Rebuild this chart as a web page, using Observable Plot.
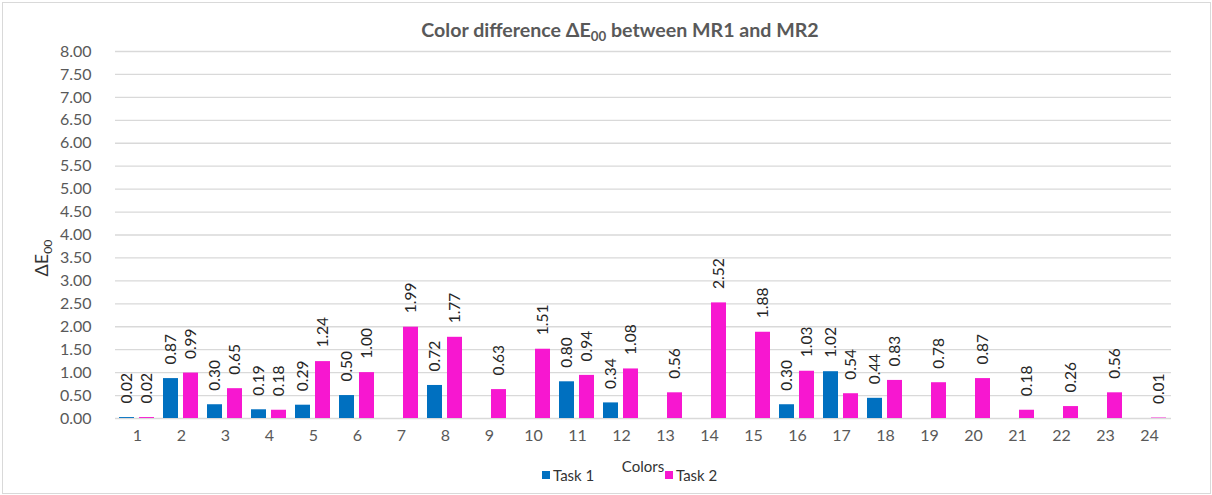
<!DOCTYPE html>
<html><head><meta charset="utf-8">
<script src="https://cdn.jsdelivr.net/npm/d3@7"></script>
<script src="https://cdn.jsdelivr.net/npm/@observablehq/plot@0.6"></script>
<style>
body{margin:0;background:#fff;font-family:Lato,"Open Sans",sans-serif}
#wrap{position:relative;width:1212px;height:495px;overflow:hidden}
#frame{position:absolute;left:2px;top:2px;width:1209px;height:492px;border:1px solid #d9d9d9;box-sizing:border-box;pointer-events:none}
#chart{position:absolute;left:0;top:0}
#title{position:absolute;left:620px;top:18px;transform:translateX(-50%);font-weight:bold;font-size:19.6px;color:#595959;white-space:nowrap}
#title sub,#ytitle sub{font-size:0.68em;vertical-align:-0.3em;line-height:0}
#ytitle{position:absolute;left:41px;top:258px;transform:translate(-50%,-50%) rotate(-90deg);font-size:18px;color:#333;white-space:nowrap}
#xtitle{position:absolute;left:643px;top:457px;transform:translateX(-50%);font-size:15px;color:#333;white-space:nowrap}
.leg{position:absolute;top:466px;font-size:15px;color:#333;white-space:nowrap;display:flex;align-items:center}
.leg span.sw{display:inline-block;width:8px;height:8px;margin-right:3px}
</style></head>
<body>
<div id="wrap">
  <div id="chart"></div>
  <div id="title">Color difference ΔE<sub>00</sub> between MR1 and MR2</div>
  <div id="ytitle">ΔE<sub>00</sub></div>
  <div id="xtitle">Colors</div>
  <div class="leg" id="leg1" style="left:542px"><span class="sw" style="background:#0070C0"></span>Task 1</div>
  <div class="leg" id="leg2" style="left:665px"><span class="sw" style="background:#F717D0"></span>Task 2</div>
  <div id="frame"></div>
</div>
<script>
const categories = ["1","2","3","4","5","6","7","8","9","10","11","12","13","14","15","16","17","18","19","20","21","22","23","24"];
const seriesNames = ["Task 1","Task 2"];
const task1 = [0.02,0.87,0.30,0.19,0.29,0.50,null,0.72,null,null,0.80,0.34,null,null,null,0.30,1.02,0.44,null,null,null,null,null,null];
const task2 = [0.02,0.99,0.65,0.18,1.24,1.00,1.99,1.77,0.63,1.51,0.94,1.08,0.56,2.52,1.88,1.03,0.54,0.83,0.78,0.87,0.18,0.26,0.56,0.01];
const yTicks = [0,0.5,1,1.5,2,2.5,3,3.5,4,4.5,5,5.5,6,6.5,7,7.5,8];
const seriesColors = ["#0070C0","#F717D0"];

const data = [];
categories.forEach((c, i) => {
  [task1, task2].forEach((arr, s) => {
    if (arr[i] != null) data.push({cat: c, series: seriesNames[s], value: arr[i]});
  });
});

const chart = Plot.plot({
  width: 1212,
  height: 495,
  marginLeft: 107,
  marginRight: 33,
  marginTop: 51,
  marginBottom: 77,
  style: {fontFamily: "Lato, sans-serif", fontSize: "16px", color: "#595959", background: "transparent"},
  fx: {domain: categories, padding: 0, axis: "bottom", tickSize: 0, tickPadding: 11, label: null},
  x: {domain: seriesNames, paddingInner: 0.23, paddingOuter: 0.19, axis: null},
  y: {domain: [0, 8], ticks: yTicks, tickFormat: d => d.toFixed(2), tickSize: 0, tickPadding: 24, label: null},
  color: {domain: seriesNames, range: seriesColors},
  marks: [
    Plot.ruleY(yTicks, {stroke: "#d9d9d9", strokeWidth: 1.3}),
    Plot.barY(data, {fx: "cat", x: "series", y: "value", fill: "series"}),
    Plot.text(data, {fx: "cat", x: "series", y: "value", text: d => d.value.toFixed(2), rotate: -90, textAnchor: "start", dy: -14, fill: "#262626", fontSize: 15.5})
  ]
});
document.getElementById("chart").appendChild(chart);
</script>
</body></html>
